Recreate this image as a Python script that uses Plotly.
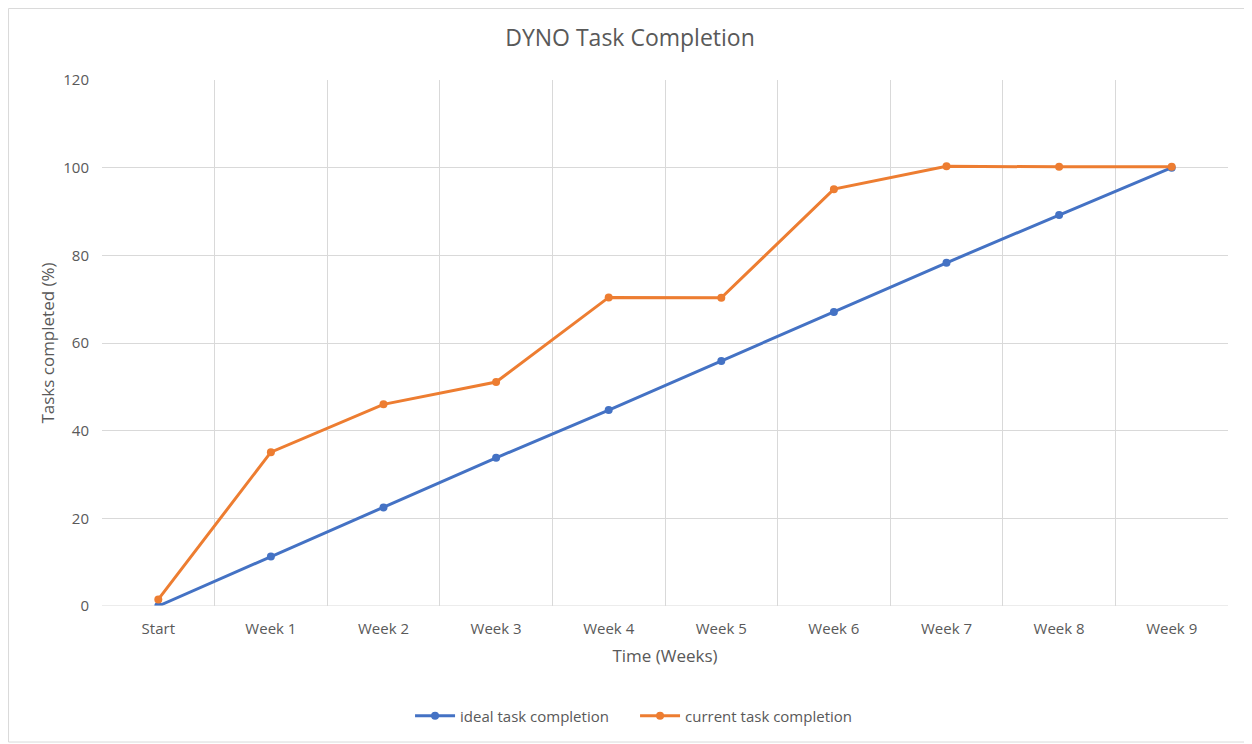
import plotly.graph_objects as go

categories = ["Start", "Week 1", "Week 2", "Week 3", "Week 4", "Week 5", "Week 6", "Week 7", "Week 8", "Week 9"]
ideal = [0, 11.3, 22.5, 33.8, 44.7, 55.9, 67.1, 78.3, 89.2, 100]
current = [1.5, 35.1, 46.0, 51.1, 70.4, 70.3, 95.1, 100.3, 100.2, 100.2]

xs = list(range(len(categories)))
grid_pos = [i - 0.5 for i in range(len(categories) + 1)]

fig = go.Figure()
fig.add_trace(go.Scatter(x=xs, y=ideal, mode="lines+markers", name="ideal task completion",
                         line=dict(color="#4472C4", width=3), marker=dict(size=8, color="#4472C4")))
fig.add_trace(go.Scatter(x=xs, y=current, mode="lines+markers", name="current task completion",
                         line=dict(color="#ED7D31", width=3), marker=dict(size=8, color="#ED7D31")))

fig.update_layout(
    width=1244, height=736,
    margin=dict(l=94, r=24, t=72, b=138),
    paper_bgcolor="white", plot_bgcolor="white",
    font=dict(family="Open Sans, Liberation Sans, sans-serif", color="#595959", size=15),
    title=dict(text="DYNO Task Completion", x=0.5, xanchor="center", y=0.959, yanchor="middle",
               font=dict(size=23, color="#595959")),
    xaxis=dict(range=[-0.5, 9.5], tickvals=xs, ticktext=categories, showgrid=False,
               zeroline=False, showline=False, ticks="", ticklabelstandoff=12,
               minor=dict(tickvals=grid_pos, showgrid=True, gridcolor="#d9d9d9", gridwidth=1, ticks=""),
               title=dict(text="Time (Weeks)", font=dict(size=17, color="#595959"), standoff=13),
               tickfont=dict(size=15, color="#595959")),
    yaxis=dict(range=[0, 120], dtick=20, showgrid=True, gridcolor="#d9d9d9", gridwidth=1,
               zeroline=False, showline=False, ticks="", ticklen=0, ticklabelstandoff=12,
               title=dict(text="Tasks completed (%)", font=dict(size=17, color="#595959"), standoff=4),
               tickfont=dict(size=15, color="#595959")),
    legend=dict(orientation="h", x=0.4734, xanchor="center", y=-0.209, yanchor="middle",
                font=dict(size=15, color="#595959"), itemwidth=40, entrywidth=170),
    showlegend=True,
)

fig.add_shape(type="line", xref="x", yref="y", x0=-0.5, x1=9.5, y0=0, y1=0,
              line=dict(color="#d9d9d9", width=1))
fig.add_shape(type="rect", xref="paper", yref="paper", x0=-0.083, x1=1.0178, y0=-0.2586, y1=1.136,
              line=dict(color="#d9d9d9", width=1), layer="below")

fig.write_html("out.html")
